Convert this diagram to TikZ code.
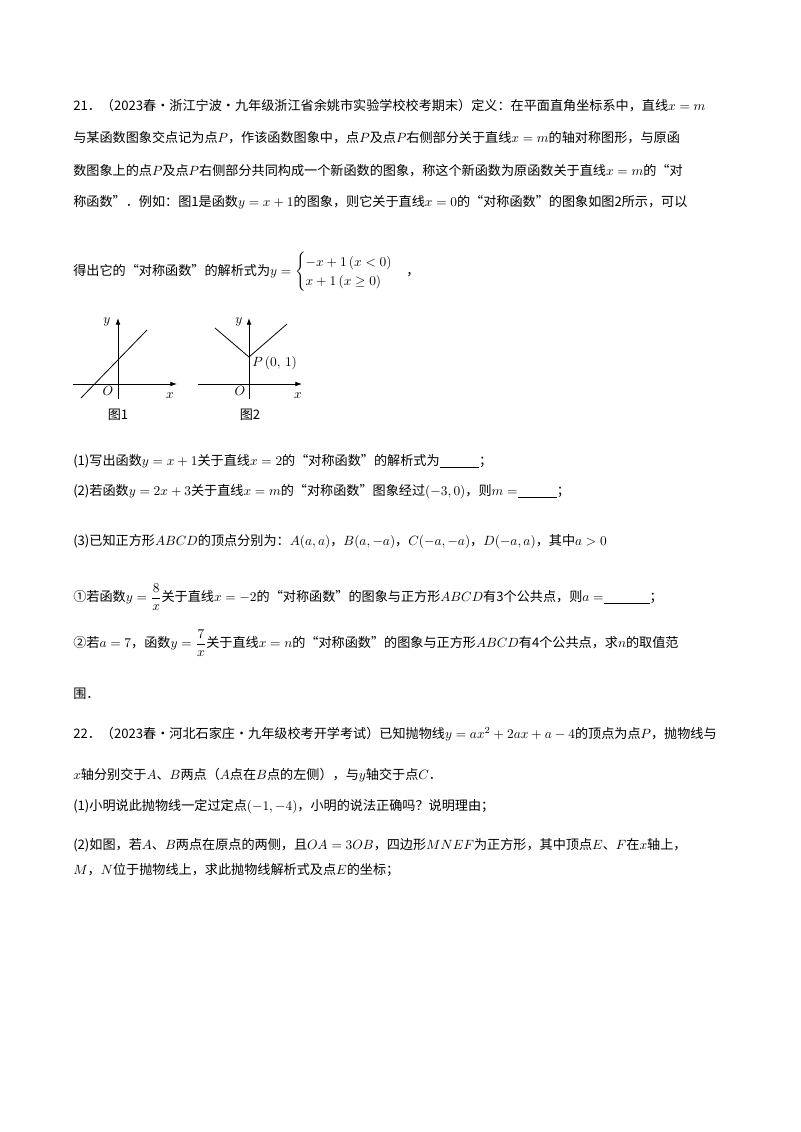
\documentclass[tikz,border=0pt]{standalone}
\usepackage{amsmath,amssymb}
\usepackage{fontspec}
\newfontfamily\cjk{Noto Sans CJK SC}
\usetikzlibrary{arrows.meta}
\begin{document}
\begin{tikzpicture}[x=0.02625cm,y=-0.02625cm,
  ln/.style={anchor=west,inner sep=0pt,font=\cjk\fontsize{9.8pt}{12pt}\selectfont},
  ax/.style={-{Latex[length=5pt,width=3.5pt]},line width=0.6pt},
  gr/.style={line width=0.6pt},
  lb/.style={inner sep=0pt,font=\fontsize{10pt}{12pt}\selectfont}]
\path[fill=white] (0,0) rectangle (800,1132);
\node[ln] (l1) at (73,106) {21．（2023春·浙江宁波·九年级浙江省余姚市实验学校校考期末）定义：在平面直角坐标系中，直线$x=m$};
\node[ln] (l2) at (73,138) {与某函数图象交点记为点$P$，作该函数图象中，点$P$及点$P$右侧部分关于直线$x=m$的轴对称图形，与原函};
\node[ln] (l3) at (73,171) {数图象上的点$P$及点$P$右侧部分共同构成一个新函数的图象，称这个新函数为原函数关于直线$x=m$的“对};
\node[ln] (l4) at (73,202) {称函数”．例如：图1是函数$y=x+1$的图象，则它关于直线$x=0$的“对称函数”的图象如图2所示，可以};
\node[ln] (l5) at (73,272) {得出它的“对称函数”的解析式为$y=\begin{cases}-x+1\,(x<0)\\ x+1\,(x\ge 0)\end{cases}$，};
% figure 1
\draw[ax] (73,384) -- (177,384);
\draw[ax] (118,399) -- (118,318);
\draw[gr] (81,398) -- (147,330);
\node[lb] (o1) at (108,391) {$O$};
\node[lb] (x1) at (170,396) {$x$};
\node[lb] (y1) at (107,322) {$y$};
\node[ln,anchor=center] (f1) at (118,415) {图1};
% figure 2
\draw[ax] (198,384) -- (302,384);
\draw[ax] (249,399) -- (249,318);
\draw[gr] (215,328) -- (249,357) -- (287,324);
\node[lb,anchor=west] (p2) at (252,363) {$P\,(0,\,1)$};
\node[lb] (o2) at (240,391) {$O$};
\node[lb] (x2) at (298,396) {$x$};
\node[lb] (y2) at (239,322) {$y$};
\node[ln,anchor=center] (f2) at (250,415) {图2};
\node[ln] (q1) at (73,461) {(1)写出函数$y=x+1$关于直线$x=2$的“对称函数”的解析式为\underline{\hspace{3em}}；};
\node[ln] (q2) at (73,492) {(2)若函数$y=2x+3$关于直线$x=m$的“对称函数”图象经过$(-3,0)$，则$m=$\underline{\hspace{3em}}；};
\node[ln] (q3) at (73,542) {(3)已知正方形$ABCD$的顶点分别为：$A(a,a)$，$B(a,-a)$，$C(-a,-a)$，$D(-a,a)$，其中$a>0$};
\node[ln] (q4) at (73,597) {①若函数$y=\dfrac{8}{x}$关于直线$x=-2$的“对称函数”的图象与正方形$ABCD$有3个公共点，则$a=$\underline{\hspace{3.5em}}；};
\node[ln] (q5) at (73,643) {②若$a=7$，函数$y=\dfrac{7}{x}$关于直线$x=n$的“对称函数”的图象与正方形$ABCD$有4个公共点，求$n$的取值范};
\node[ln] (q6) at (73,694) {围．};
\node[ln] (m1) at (73,734) {22．（2023春·河北石家庄·九年级校考开学考试）已知抛物线$y=ax^2+2ax+a-4$的顶点为点$P$，抛物线与};
\node[ln] (m2) at (73,775) {$x$轴分别交于$A$、$B$两点（$A$点在$B$点的左侧），与$y$轴交于点$C$．};
\node[ln] (m3) at (73,807) {(1)小明说此抛物线一定过定点$(-1,-4)$，小明的说法正确吗？说明理由；};
\node[ln] (m4) at (73,845) {(2)如图，若$A$、$B$两点在原点的两侧，且$OA=3OB$，四边形$MNEF$为正方形，其中顶点$E$、$F$在$x$轴上，};
\node[ln] (m5) at (73,870) {$M$，$N$位于抛物线上，求此抛物线解析式及点$E$的坐标；};
\end{tikzpicture}
\end{document}
